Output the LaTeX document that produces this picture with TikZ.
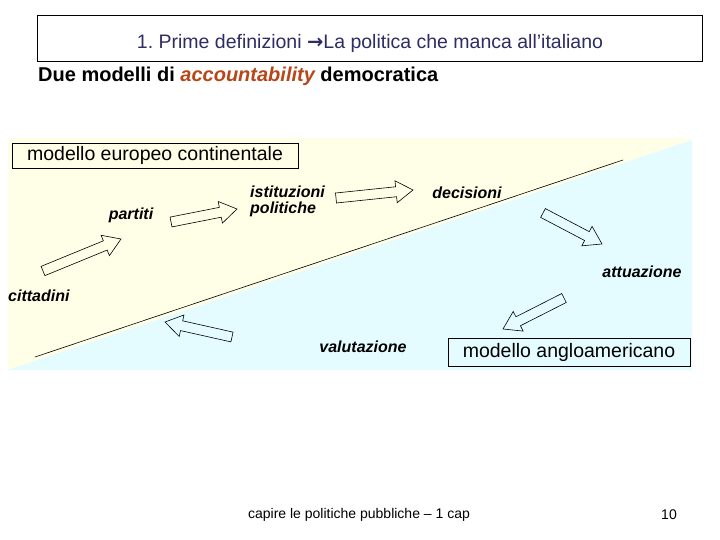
\documentclass[tikz,border=0pt]{standalone}
\usepackage{fontspec}
\setmainfont{Liberation Sans}
\newfontfamily\arrowfont{DejaVu Sans}
\usetikzlibrary{calc}
\frenchspacing
\definecolor{bgyellow}{RGB}{255,254,230}
\definecolor{bgcyan}{RGB}{228,252,255}
\definecolor{titleblue}{RGB}{45,45,100}
\definecolor{accred}{RGB}{183,70,25}
\tikzset{
  lbl/.style={font=\fontsize{16}{18}\selectfont\bfseries\itshape, inner sep=0pt},
  modelbox/.style={draw, line width=0.6pt, inner sep=0pt},
  blockarrow/.style={draw=black, line width=0.6pt, line join=miter, to path={
    let \p1=(\tikztostart), \p2=(\tikztotarget),
        \n1={atan2(\y2-\y1,\x2-\x1)}, \n2={veclen(\x2-\x1,\y2-\y1)} in
    ([shift={(\p1)},rotate=\n1]0pt,-5pt) --
    ([shift={(\p1)},rotate=\n1]\n2-17pt,-5pt) --
    ([shift={(\p1)},rotate=\n1]\n2-17pt,-11pt) --
    ([shift={(\p1)},rotate=\n1]\n2,0pt) --
    ([shift={(\p1)},rotate=\n1]\n2-17pt,11pt) --
    ([shift={(\p1)},rotate=\n1]\n2-17pt,5pt) --
    ([shift={(\p1)},rotate=\n1]0pt,5pt) -- cycle}}
}
\begin{document}
\begin{tikzpicture}[x=1pt,y=-1pt]
\useasboundingbox (0,0) rectangle (720,540);
\fill[white] (0,0) rectangle (720,540);
% backgrounds
\fill[bgyellow] (8,138) rectangle (692,370);
\fill[bgcyan] (8,370) -- (692,140) -- (692,370) -- cycle;
\draw[line width=0.6pt] (35,357) -- (623,160);
% title
\draw[line width=0.6pt] (37,15) rectangle (702,61);
\node[text=titleblue, font=\fontsize{19.5}{22}\selectfont, inner sep=0pt] (title) at (370,43) {1. Prime definizioni {\arrowfont\bfseries\char"2192}La politica che manca all’italiano};
\node[anchor=west, font=\fontsize{20}{22}\selectfont\bfseries, inner sep=0pt] (sub) at (38,76) {Due modelli di \textcolor{accred}{\itshape accountability} democratica};
% model boxes
\node[modelbox, fill=bgyellow, minimum width=286, minimum height=25, font=\fontsize{19.5}{21}\selectfont] (euro) at (155,155.5) {modello europeo continentale};
\node[modelbox, fill=bgcyan, minimum width=242, minimum height=28, font=\fontsize{19.5}{21}\selectfont] (anglo) at (569,352) {modello angloamericano};
% labels
\node[lbl, anchor=west] (cit) at (8,296) {cittadini};
\node[lbl] (part) at (131,215) {partiti};
\node[lbl, anchor=west, align=left, font=\fontsize{16}{16}\selectfont\bfseries\itshape] (ist) at (250,201) {istituzioni\\politiche};
\node[lbl] (dec) at (467,193) {decisioni};
\node[lbl] (att) at (642,272) {attuazione};
\node[lbl] (val) at (363,347) {valutazione};
% arrow end points
\coordinate (a1s) at (43,271); \coordinate (a1e) at (121,239);
\coordinate (a2s) at (171,222); \coordinate (a2e) at (237,209);
\coordinate (a3s) at (336,198); \coordinate (a3e) at (413,190);
\coordinate (a4s) at (543,213); \coordinate (a4e) at (602,244);
\coordinate (a5s) at (564,298); \coordinate (a5e) at (503,329);
\coordinate (a6s) at (232,337); \coordinate (a6e) at (165,322);
\draw[blockarrow] (a1s) to (a1e);
\draw[blockarrow] (a2s) to (a2e);
\draw[blockarrow] (a3s) to (a3e);
\draw[blockarrow] (a4s) to (a4e);
\draw[blockarrow] (a5s) to (a5e);
\draw[blockarrow] (a6s) to (a6e);
% footer
\node[font=\fontsize{14}{16}\selectfont, inner sep=0pt] (foot) at (359,515) {capire le politiche pubbliche – 1 cap};
\node[font=\fontsize{14}{16}\selectfont, inner sep=0pt] (page) at (669,515) {10};
\end{tikzpicture}
\end{document}
